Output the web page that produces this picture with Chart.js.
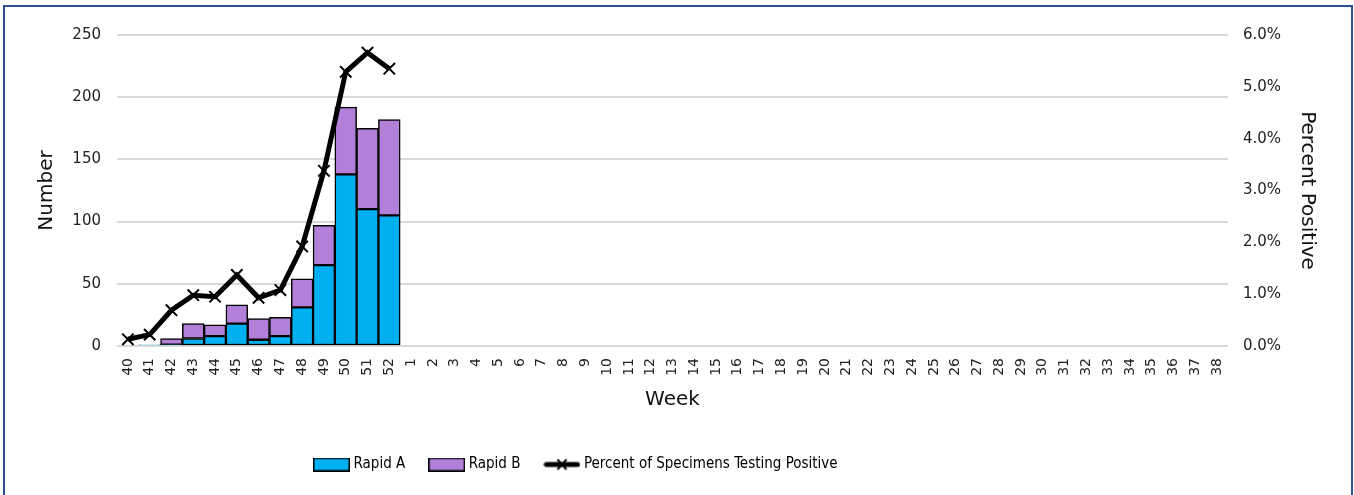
<!DOCTYPE html>
<html><head><meta charset="utf-8">
<script src="https://cdn.jsdelivr.net/npm/chart.js@4.4.0/dist/chart.umd.min.js"></script>
<style>
html,body{margin:0;padding:0;background:#fff;overflow:hidden}
#wrap{position:absolute;left:0;top:0;width:1354px;height:495px}
#frame{position:absolute;left:3px;top:5px;width:1350px;height:600px;border:2px solid #2e4f95;box-sizing:border-box;pointer-events:none}
</style></head>
<body>
<div id="wrap"><canvas id="c"></canvas></div>
<div id="frame"></div>
<script>
const weeks = ['40','41','42','43','44','45','46','47','48','49','50','51','52',
  '1','2','3','4','5','6','7','8','9','10','11','12','13','14','15','16','17','18','19',
  '20','21','22','23','24','25','26','27','28','29','30','31','32','33','34','35','36','37','38'];
const rapidA = [0, 1, 1, 6, 8, 18, 5, 8, 31, 65, 138, 110, 105];
const rapidB = [0, 0, 5, 12, 9, 15, 17, 15, 23, 32, 54, 65, 77];
const pctPositive = [0.13, 0.22, 0.69, 0.98, 0.95, 1.37, 0.93, 1.08, 1.92, 3.38, 5.29, 5.66, 5.35];
const leftTicksMax = 250, leftStep = 50;
const rightTicksMax = 6, rightStep = 1;

const colA = '#00b0f0', colB = '#b280d9';

function boxImg(fill){
  const c = document.createElement('canvas'); c.width = 37; c.height = 14;
  const g = c.getContext('2d');
  g.fillStyle = fill; g.fillRect(1,1,35,12);
  g.strokeStyle = '#000'; g.lineWidth = 1.5; g.strokeRect(0.75,0.75,35.5,12.5);
  return c;
}
function lineImg(){
  const c = document.createElement('canvas'); c.width = 37; c.height = 14;
  const g = c.getContext('2d');
  g.strokeStyle = '#000'; g.lineWidth = 5; g.lineCap = 'round';
  g.beginPath(); g.moveTo(3,7); g.lineTo(34,7); g.stroke();
  g.lineWidth = 2; g.lineCap = 'butt';
  g.beginPath(); g.moveTo(14,2); g.lineTo(23,12); g.moveTo(23,2); g.lineTo(14,12); g.stroke();
  return c;
}

Chart.defaults.font.family = 'DejaVu Sans';
const legendShift = {
  id: 'legendShift',
  afterLayout(chart){ if (chart.legend) { chart.legend.left = 290; } }
};

new Chart(document.getElementById('c'), {
  data: {
    labels: weeks,
    datasets: [
      { type:'bar', label:'Rapid A', data: rapidA, backgroundColor: colA, borderColor:'#000', borderWidth:1.5, borderSkipped:false, yAxisID:'y', order:1, barPercentage:1, categoryPercentage:1 },
      { type:'bar', label:'Rapid B', data: rapidB, backgroundColor: colB, borderColor:'#000', borderWidth:1.5, borderSkipped:false, yAxisID:'y', order:2, barPercentage:1, categoryPercentage:1 },
      { type:'line', label:'Percent of Specimens Testing Positive', data: pctPositive, borderColor:'#000', backgroundColor:'#000', borderWidth:5, tension:0, yAxisID:'y1', order:0,
        pointStyle:'crossRot', pointRadius:8, pointBorderWidth:2, pointBorderColor:'#000', pointHoverRadius:8 }
    ]
  },
  options: {
    responsive: true, maintainAspectRatio: false, animation: false,
    layout: { padding: { top: 35, left: 0, right: 0, bottom: 13 } },
    plugins: {
      tooltip: { enabled: false },
      legend: {
        position: 'bottom', align: 'start',
        labels: {
          usePointStyle: true, pointStyleWidth: 29, boxHeight: 14, padding: 27,
          font: { family: "'DejaVu Sans Condensed','DejaVu Sans',sans-serif", size: 15 },
          color: '#000',
          generateLabels: () => [
            { text:'Rapid A', pointStyle: boxImg(colA), fillStyle: colA, strokeStyle:'#000', lineWidth:0, hidden:false, datasetIndex:0, fontColor:'#000' },
            { text:'Rapid B', pointStyle: boxImg(colB), fillStyle: colB, strokeStyle:'#000', lineWidth:0, hidden:false, datasetIndex:1, fontColor:'#000' },
            { text:'Percent of Specimens Testing Positive', pointStyle: lineImg(), fillStyle:'#000', strokeStyle:'#000', lineWidth:0, hidden:false, datasetIndex:2, fontColor:'#000' }
          ]
        }
      }
    },
    scales: {
      x: {
        stacked: true,
        grid: { display: false },
        border: { display: false },
        ticks: { autoSkip: false, maxRotation: 90, minRotation: 90, padding: 4, color: '#222', font: { size: 14 } },
        title: { display: true, text: 'Week', color: '#111', font: { size: 20 }, padding: { top: 0, bottom: 18 } },
        afterFit: s => { s.height = 84; }
      },
      y: {
        stacked: true, position: 'left', min: 0, max: leftTicksMax,
        ticks: { stepSize: leftStep, padding: 16, color: '#222', font: { size: 15 } },
        grid: { color: '#d9d9d9', lineWidth: 2, drawTicks: false },
        border: { display: false },
        title: { display: true, text: 'Number', color: '#111', font: { size: 20 }, padding: { top: 35, bottom: 0 } },
        afterFit: s => { s.width = 117; }
      },
      y1: {
        position: 'right', min: 0, max: rightTicksMax,
        ticks: { stepSize: rightStep, padding: 15, color: '#222', font: { size: 15 }, callback: v => Number(v).toFixed(1) + '%' },
        grid: { drawOnChartArea: false, drawTicks: false },
        border: { display: false },
        title: { display: true, text: 'Percent Positive', color: '#111', font: { size: 20 }, padding: { top: 35, bottom: 0 } },
        afterFit: s => { s.width = 126; }
      }
    }
  },
  plugins: [legendShift]
});
</script>
</body></html>
